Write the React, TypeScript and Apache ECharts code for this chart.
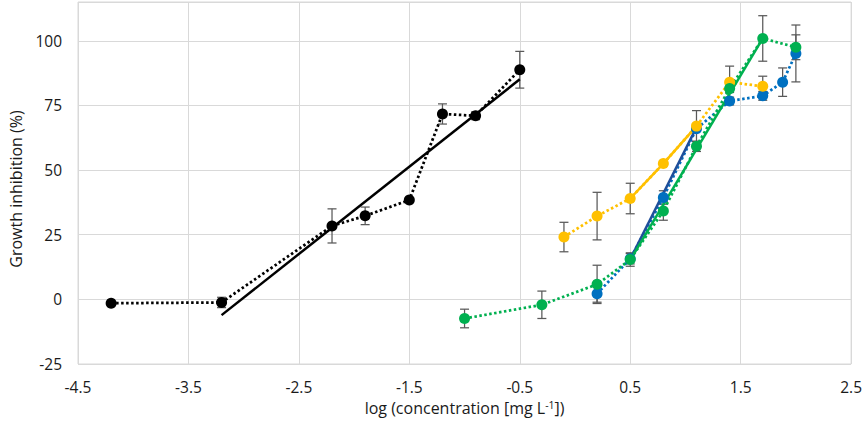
import React, { useEffect, useRef } from 'react';
import * as echarts from 'echarts';

// Black series (dotted with markers) + linear fit
const blackX = [-4.2, -3.2, -2.2, -1.9, -1.5, -1.2, -0.9, -0.5];
const blackY = [-1.5, -1.2, 28.4, 32.3, 38.4, 71.7, 71, 88.8];
const blackErr = [0.6, 2, 6.6, 3.4, 0, 3.9, 1.5, 7.1];
const blackFitX = [-3.2, -0.5];
const blackFitY = [-6.1, 85.1];

// Yellow series
const yellowX = [-0.1, 0.2, 0.5, 0.8, 1.1, 1.4, 1.7];
const yellowY = [24.1, 32.2, 39, 52.5, 67, 84, 82.4];
const yellowErr = [5.7, 9.2, 5.9, 0, 6, 6.2, 3.9];
const yellowFitX = [0.5, 0.8, 1.1];
const yellowFitY = [39, 52.5, 67];

// Blue series
const blueX = [0.2, 0.5, 0.8, 1.1, 1.4, 1.7, 1.88, 2.0];
const blueY = [2.2, 15.7, 39.4, 66, 76.7, 78.7, 84, 95.1];
const blueErr = [3.3, 2, 2.6, 1, 1.5, 1.7, 5.5, 11];
const blueFitX = [0.5, 1.1];
const blueFitY = [15.5, 66.5];

// Green series
const greenX = [-1.0, -0.3, 0.2, 0.5, 0.8, 1.1, 1.4, 1.7, 2.0];
const greenY = [-7.4, -2.1, 5.8, 15.4, 34.2, 59.2, 81.5, 100.9, 97.5];
const greenErr = [3.6, 5.3, 7.4, 2.6, 3.6, 2, 1.5, 8.8, 4.8];
const greenFitX = [0.5, 1.7];
const greenFitY = [15.2, 100.9];

const BLACK = '#000000';
const YELLOW = '#FFC000';
const BLUE = '#0070C0';
const DARKBLUE = '#1F4E9A';
const GREEN = '#00B050';
const FONT = "'Open Sans', Lato, sans-serif";
const TEXT = '#1a1a1a';

const pts = (xs: number[], ys: number[]) => xs.map((x, i) => [x, ys[i]]);
const errData = (xs: number[], ys: number[], es: number[]) =>
  xs.map((x, i) => [x, ys[i] - es[i], ys[i] + es[i], es[i]]).filter((d) => d[3] > 0);

const errorSeries = (data: number[][]) => ({
  type: 'custom',
  data,
  encode: { x: 0, y: [1, 2] },
  z: 1,
  silent: true,
  renderItem: (params: any, api: any) => {
    const x = api.value(0);
    const lo = api.coord([x, api.value(1)]);
    const hi = api.coord([x, api.value(2)]);
    const w = 4.5;
    const style = { stroke: '#595959', lineWidth: 1.25, fill: 'none' };
    return {
      type: 'group',
      children: [
        { type: 'line', shape: { x1: lo[0], y1: lo[1], x2: hi[0], y2: hi[1] }, style },
        { type: 'line', shape: { x1: lo[0] - w, y1: lo[1], x2: lo[0] + w, y2: lo[1] }, style },
        { type: 'line', shape: { x1: hi[0] - w, y1: hi[1], x2: hi[0] + w, y2: hi[1] }, style },
      ],
    };
  },
});

const dotted = (xs: number[], ys: number[], color: string) => ({
  type: 'line',
  data: pts(xs, ys),
  symbol: 'circle',
  symbolSize: 11,
  z: 3,
  itemStyle: { color },
  lineStyle: { color, width: 2.75, type: [2.5, 2.5] },
});

const solid = (xs: number[], ys: number[], color: string) => ({
  type: 'line',
  data: pts(xs, ys),
  symbol: 'none',
  z: 3,
  lineStyle: { color, width: 2.5, type: 'solid' },
});

export default function App() {
  const ref = useRef<HTMLDivElement>(null);
  useEffect(() => {
    document.body.style.margin = '0';
    const chart = echarts.init(ref.current!, undefined, { renderer: 'svg' });
    chart.setOption({
      animation: false,
      textStyle: { fontFamily: FONT },
      grid: {
        left: 67,
        right: 13,
        top: 2,
        bottom: 61,
        show: true,
        borderColor: '#d9d9d9',
        borderWidth: 1,
      },
      xAxis: {
        type: 'value',
        min: -4.5,
        max: 2.5,
        interval: 1,
        axisLine: { show: false },
        axisTick: { show: false },
        splitLine: { lineStyle: { color: '#d9d9d9', width: 1 } },
        axisLabel: { color: TEXT, fontSize: 15.5, fontFamily: FONT, margin: 15 },
        name: 'log (concentration [mg L{sup|-1}])',
        nameLocation: 'middle',
        nameGap: 35,
        nameMoveOverlap: false,
        nameTextStyle: {
          color: TEXT,
          fontSize: 16,
          fontFamily: FONT,
          rich: { sup: { fontSize: 10.5, fontFamily: FONT, color: TEXT, padding: [0, 0, 7, 0] } },
        },
      },
      yAxis: {
        type: 'value',
        min: -25,
        max: 115,
        interval: 25,
        axisLine: { show: false },
        axisTick: { show: false },
        splitLine: { lineStyle: { color: '#d9d9d9', width: 1 } },
        axisLabel: {
          color: TEXT,
          fontSize: 15.5,
          fontFamily: FONT,
          margin: 16,
          formatter: (v: number) => (v > 100 ? '' : String(v)),
        },
        name: 'Growth inhibition (%)',
        nameLocation: 'middle',
        nameGap: 54,
        nameMoveOverlap: false,
        nameTextStyle: { color: TEXT, fontSize: 16, fontFamily: FONT, padding: [0, 12, 0, 0] },
      },
      series: [
        errorSeries(errData(blackX, blackY, blackErr)),
        errorSeries(errData(yellowX, yellowY, yellowErr)),
        errorSeries(errData(blueX, blueY, blueErr)),
        errorSeries(errData(greenX, greenY, greenErr)),
        dotted(blueX, blueY, BLUE),
        solid(blueFitX, blueFitY, DARKBLUE),
        dotted(yellowX, yellowY, YELLOW),
        solid(yellowFitX, yellowFitY, YELLOW),
        dotted(greenX, greenY, GREEN),
        solid(greenFitX, greenFitY, GREEN),
        dotted(blackX, blackY, BLACK),
        solid(blackFitX, blackFitY, BLACK),
      ],
    });
    return () => chart.dispose();
  }, []);
  return <div ref={ref} style={{ width: 865, height: 425 }} />;
}
